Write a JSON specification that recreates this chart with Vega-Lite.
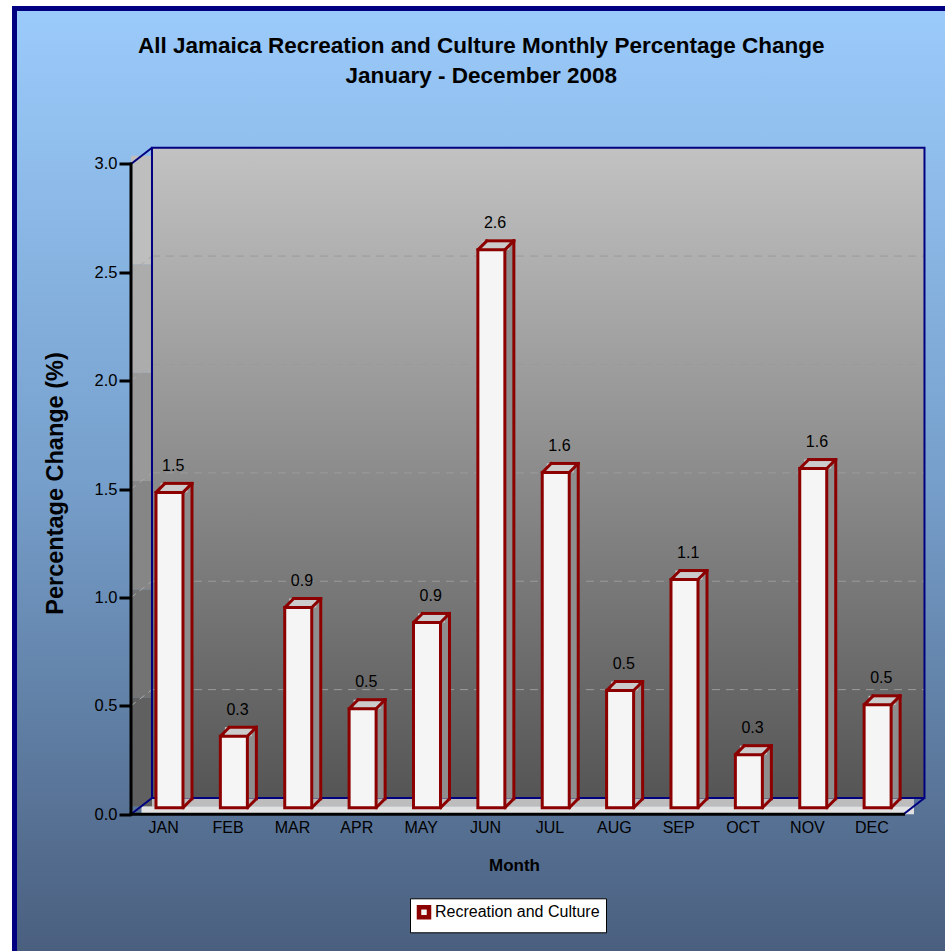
{
  "$schema": "https://vega.github.io/schema/vega-lite/v6.json",
  "width": 945,
  "height": 951,
  "autosize": {"type": "fit", "contains": "padding"},
  "padding": {"left": 14.5, "top": 8.5, "right": -3, "bottom": -3},
  "background": "#ffffff",
  "config": {
    "font": "Liberation Sans",
    "view": {
      "fill": {"gradient": "linear", "x1": 0, "y1": 0, "x2": 0, "y2": 1,
        "stops": [{"offset": 0, "color": "#9BCBFB"}, {"offset": 0.5, "color": "#769FCB"}, {"offset": 1, "color": "#4A5F7E"}]},
      "stroke": "#000080",
      "strokeWidth": 5
    }
  },
  "title": {
    "text": ["All Jamaica Recreation and Culture Monthly Percentage Change", "January - December 2008"],
    "anchor": "middle",
    "frame": "group",
    "orient": "top",
    "offset": -78.5,
    "baseline": "top",
    "fontSize": 22.5,
    "fontWeight": "bold",
    "lineHeight": 30,
    "font": "Liberation Sans",
    "color": "#000000"
  },
  "datasets": {
    "months": [
      {"month": "JAN", "idx": 1, "value": 1.455, "label": "1.5"},
      {"month": "FEB", "idx": 2, "value": 0.33, "label": "0.3"},
      {"month": "MAR", "idx": 3, "value": 0.924, "label": "0.9"},
      {"month": "APR", "idx": 4, "value": 0.457, "label": "0.5"},
      {"month": "MAY", "idx": 5, "value": 0.855, "label": "0.9"},
      {"month": "JUN", "idx": 6, "value": 2.574, "label": "2.6"},
      {"month": "JUL", "idx": 7, "value": 1.547, "label": "1.6"},
      {"month": "AUG", "idx": 8, "value": 0.541, "label": "0.5"},
      {"month": "SEP", "idx": 9, "value": 1.053, "label": "1.1"},
      {"month": "OCT", "idx": 10, "value": 0.245, "label": "0.3"},
      {"month": "NOV", "idx": 11, "value": 1.565, "label": "1.6"},
      {"month": "DEC", "idx": 12, "value": 0.475, "label": "0.5"}
    ],
    "grid": [{"v": 0.5}, {"v": 1.0}, {"v": 1.5}, {"v": 2.0}, {"v": 2.5}],
    "one": [{"part": "frame"}]
  },
  "data": {"name": "months"},
  "layer": [
    {
      "data": {"name": "one"},
      "mark": {"type": "rect", "fill": {"gradient": "linear", "x1": 0, "y1": 0, "x2": 0, "y2": 1,
        "stops": [{"offset": 0, "color": "#C2C2C2"}, {"offset": 1, "color": "#555555"}]}},
      "encoding": {
        "x": {"datum": 0.826, "type": "quantitative",
          "scale": {"domain": [-1.3097, 13.1913], "nice": false, "zero": false},
          "axis": {
            "values": [1, 2, 3, 4, 5, 6, 7, 8, 9, 10, 11, 12],
            "labelExpr": "['JAN','FEB','MAR','APR','MAY','JUN','JUL','AUG','SEP','OCT','NOV','DEC'][datum.value - 1]",
            "offset": -139.7,
            "domain": false, "ticks": false, "tickSize": 0, "grid": false,
            "labelFontSize": 16, "labelColor": "#000000", "labelPadding": 5, "labelFont": "Liberation Sans",
            "labelFlush": false, "labelOverlap": false,
            "title": "Month", "titleFontSize": 17, "titleFontWeight": "bold", "titleColor": "#000000",
            "titleFont": "Liberation Sans",
            "titleX": 499.5, "titleY": 50.7, "titleBaseline": "middle", "titleAlign": "center"
          }},
        "x2": {"datum": 12.826},
        "y": {"datum": 0.075, "type": "quantitative",
          "scale": {"domain": [-0.6445, 3.7173], "nice": false, "zero": false},
          "axis": {
            "values": [0, 0.5, 1, 1.5, 2, 2.5, 3],
            "format": ".1f",
            "offset": -116.5,
            "domain": false, "grid": false,
            "tickSize": 12, "tickWidth": 3, "tickColor": "#000000",
            "labelFontSize": 16.5, "labelColor": "#000000", "labelPadding": 2, "labelFont": "Liberation Sans",
            "labelFlush": false, "labelOverlap": false,
            "title": "Percentage Change (%)", "titleFontSize": 23.5, "titleFontWeight": "bold",
            "titleColor": "#000000", "titleFont": "Liberation Sans",
            "titleX": -76, "titleY": 474.5, "titleAngle": -90, "titleBaseline": "middle", "titleAlign": "center"
          }},
        "y2": {"datum": 3.075}
      }
    },
    {
      "data": {"name": "one"},
      "mark": {"type": "rect", "fill": "#BDBDBD"},
      "encoding": {
        "x": {"datum": 0.663, "type": "quantitative"},
        "x2": {"datum": 12.663},
        "y": {"datum": 0.0375, "type": "quantitative"},
        "y2": {"datum": 0.075}
      }
    },
    {
      "data": {"name": "one"},
      "mark": {"type": "rect", "fill": "#E2E2E2"},
      "encoding": {
        "x": {"datum": 0.663, "type": "quantitative"},
        "x2": {"datum": 12.663},
        "y": {"datum": 0, "type": "quantitative"},
        "y2": {"datum": 0.0375}
      }
    },
    {
      "data": {"name": "grid"},
      "mark": {"type": "rule", "color": "#9A9A9A", "strokeWidth": 1, "strokeDash": [8, 6], "yOffset": -16.3},
      "encoding": {
        "x": {"datum": 0.826, "type": "quantitative"},
        "x2": {"datum": 12.826},
        "y": {"field": "v", "type": "quantitative"}
      }
    },
    {
      "data": {"name": "one"},
      "mark": {"type": "rect", "fill": "#606060"},
      "encoding": {
        "x": {"datum": 0.5, "type": "quantitative"},
        "x2": {"datum": 0.826},
        "y": {"datum": 0.0375, "type": "quantitative"},
        "y2": {"datum": 0.5375}
      }
    },
    {
      "data": {"name": "one"},
      "mark": {"type": "rect", "fill": "#737373"},
      "encoding": {
        "x": {"datum": 0.5, "type": "quantitative"},
        "x2": {"datum": 0.826},
        "y": {"datum": 0.5375, "type": "quantitative"},
        "y2": {"datum": 1.0375}
      }
    },
    {
      "data": {"name": "one"},
      "mark": {"type": "rect", "fill": "#868686"},
      "encoding": {
        "x": {"datum": 0.5, "type": "quantitative"},
        "x2": {"datum": 0.826},
        "y": {"datum": 1.0375, "type": "quantitative"},
        "y2": {"datum": 1.5375}
      }
    },
    {
      "data": {"name": "one"},
      "mark": {"type": "rect", "fill": "#999999"},
      "encoding": {
        "x": {"datum": 0.5, "type": "quantitative"},
        "x2": {"datum": 0.826},
        "y": {"datum": 1.5375, "type": "quantitative"},
        "y2": {"datum": 2.0375}
      }
    },
    {
      "data": {"name": "one"},
      "mark": {"type": "rect", "fill": "#ACACAC"},
      "encoding": {
        "x": {"datum": 0.5, "type": "quantitative"},
        "x2": {"datum": 0.826},
        "y": {"datum": 2.0375, "type": "quantitative"},
        "y2": {"datum": 2.5375}
      }
    },
    {
      "data": {"name": "one"},
      "mark": {"type": "rect", "fill": "#BEBEBE"},
      "encoding": {
        "x": {"datum": 0.5, "type": "quantitative"},
        "x2": {"datum": 0.826},
        "y": {"datum": 2.5375, "type": "quantitative"},
        "y2": {"datum": 3.0375}
      }
    },
    {
      "data": {"name": "grid"},
      "mark": {"type": "rule", "color": "#A8A8A8", "strokeWidth": 1, "strokeDash": [6, 5], "y2Offset": -16.3},
      "encoding": {
        "x": {"datum": 0.5, "type": "quantitative"},
        "x2": {"datum": 0.826},
        "y": {"field": "v", "type": "quantitative"},
        "y2": {"field": "v"}
      }
    },
    {
      "data": {"name": "one"},
      "mark": {"type": "rect", "fillOpacity": 0, "stroke": "#000080", "strokeWidth": 2},
      "encoding": {
        "x": {"datum": 0.826, "type": "quantitative"},
        "x2": {"datum": 12.826},
        "y": {"datum": 0.075, "type": "quantitative"},
        "y2": {"datum": 3.075}
      }
    },
    {
      "data": {"name": "one"},
      "mark": {"type": "rule", "color": "#000080", "strokeWidth": 2},
      "encoding": {
        "x": {"datum": 0.5, "type": "quantitative"},
        "x2": {"datum": 0.826},
        "y": {"datum": 3, "type": "quantitative"},
        "y2": {"datum": 3.075}
      }
    },
    {
      "data": {"name": "one"},
      "mark": {"type": "rule", "color": "#000080", "strokeWidth": 2},
      "encoding": {
        "x": {"datum": 0.5, "type": "quantitative"},
        "x2": {"datum": 0.826},
        "y": {"datum": 0, "type": "quantitative"},
        "y2": {"datum": 0.075}
      }
    },
    {
      "data": {"name": "one"},
      "mark": {"type": "rule", "color": "#000080", "strokeWidth": 2},
      "encoding": {
        "x": {"datum": 12.5, "type": "quantitative"},
        "x2": {"datum": 12.826},
        "y": {"datum": 0, "type": "quantitative"},
        "y2": {"datum": 0.075}
      }
    },
    {
      "data": {"name": "one"},
      "mark": {"type": "rule", "color": "#000000", "strokeWidth": 3, "strokeCap": "square"},
      "encoding": {
        "x": {"datum": 0.5, "type": "quantitative"},
        "y": {"datum": 0, "type": "quantitative"},
        "y2": {"datum": 3}
      }
    },
    {
      "data": {"name": "one"},
      "mark": {"type": "rule", "color": "#000000", "strokeWidth": 3, "strokeCap": "square"},
      "encoding": {
        "x": {"datum": 0.5, "type": "quantitative"},
        "x2": {"datum": 12.5},
        "y": {"datum": 0, "type": "quantitative"}
      }
    },
    {
      "mark": {"type": "rect", "fill": "#8E8E8E", "xOffset": 1.8, "x2Offset": 28.8, "yOffset": -15.5, "y2Offset": -15.5},
      "encoding": {
        "x": {"field": "idx", "type": "quantitative"},
        "x2": {"field": "idx"},
        "y": {"field": "value", "type": "quantitative"},
        "y2": {"datum": 0}
      }
    },
    {
      "mark": {"type": "rect", "fill": "#CBCBCB", "xOffset": -2.7, "x2Offset": 24.3, "yOffset": -15.5, "y2Offset": -6.5},
      "encoding": {
        "x": {"field": "idx", "type": "quantitative"},
        "x2": {"field": "idx"},
        "y": {"field": "value", "type": "quantitative"},
        "y2": {"field": "value"}
      }
    },
    {
      "mark": {"type": "rule", "color": "#8C0000", "strokeWidth": 3, "strokeCap": "square", "xOffset": 1.8, "x2Offset": 28.8, "yOffset": -15.5},
      "encoding": {
        "x": {"field": "idx", "type": "quantitative"},
        "x2": {"field": "idx"},
        "y": {"field": "value", "type": "quantitative"}
      }
    },
    {
      "mark": {"type": "rule", "color": "#8C0000", "strokeWidth": 3, "strokeCap": "square", "xOffset": 28.8, "yOffset": -15.5, "y2Offset": -15.5},
      "encoding": {
        "x": {"field": "idx", "type": "quantitative"},
        "y": {"field": "value", "type": "quantitative"},
        "y2": {"datum": 0}
      }
    },
    {
      "mark": {"type": "rule", "color": "#8C0000", "strokeWidth": 3, "strokeCap": "round", "xOffset": -7.2, "x2Offset": 1.8, "yOffset": -6.5, "y2Offset": -15.5},
      "encoding": {
        "x": {"field": "idx", "type": "quantitative"},
        "x2": {"field": "idx"},
        "y": {"field": "value", "type": "quantitative"},
        "y2": {"field": "value"}
      }
    },
    {
      "mark": {"type": "rule", "color": "#8C0000", "strokeWidth": 3, "strokeCap": "round", "xOffset": 19.8, "x2Offset": 28.8, "yOffset": -6.5, "y2Offset": -15.5},
      "encoding": {
        "x": {"field": "idx", "type": "quantitative"},
        "x2": {"field": "idx"},
        "y": {"field": "value", "type": "quantitative"},
        "y2": {"field": "value"}
      }
    },
    {
      "mark": {"type": "rule", "color": "#8C0000", "strokeWidth": 3, "strokeCap": "round", "xOffset": 19.8, "x2Offset": 28.8, "yOffset": -6.5, "y2Offset": -15.5},
      "encoding": {
        "x": {"field": "idx", "type": "quantitative"},
        "x2": {"field": "idx"},
        "y": {"datum": 0, "type": "quantitative"},
        "y2": {"datum": 0}
      }
    },
    {
      "mark": {"type": "rect", "stroke": "#8C0000", "strokeWidth": 3, "xOffset": -7.2, "x2Offset": 19.8, "yOffset": -6.5, "y2Offset": -6.5},
      "encoding": {
        "x": {"field": "idx", "type": "quantitative"},
        "x2": {"field": "idx"},
        "y": {"field": "value", "type": "quantitative"},
        "y2": {"datum": 0},
        "fill": {"datum": "Recreation and Culture", "type": "nominal",
          "scale": {"range": ["#F5F5F5"]},
          "legend": {
            "title": null, "orient": "none", "legendX": 395.5, "legendY": 889.8,
            "fillColor": "#FFFFFF", "strokeColor": "#000000", "padding": 6,
            "symbolType": "square", "symbolSize": 100,
            "symbolStrokeColor": "#8C0000", "symbolStrokeWidth": 4.5, "symbolFillColor": "#FFFFFF",
            "labelFontSize": 16, "labelColor": "#000000", "labelOffset": 3, "labelFont": "Liberation Sans",
            "labelLimit": 400
          }}
      }
    },
    {
      "mark": {"type": "text", "fontSize": 16, "font": "Liberation Sans", "color": "#000000", "baseline": "middle", "align": "center", "dx": 10, "dy": -33},
      "encoding": {
        "x": {"field": "idx", "type": "quantitative"},
        "y": {"field": "value", "type": "quantitative"},
        "text": {"field": "label"}
      }
    }
  ]
}
